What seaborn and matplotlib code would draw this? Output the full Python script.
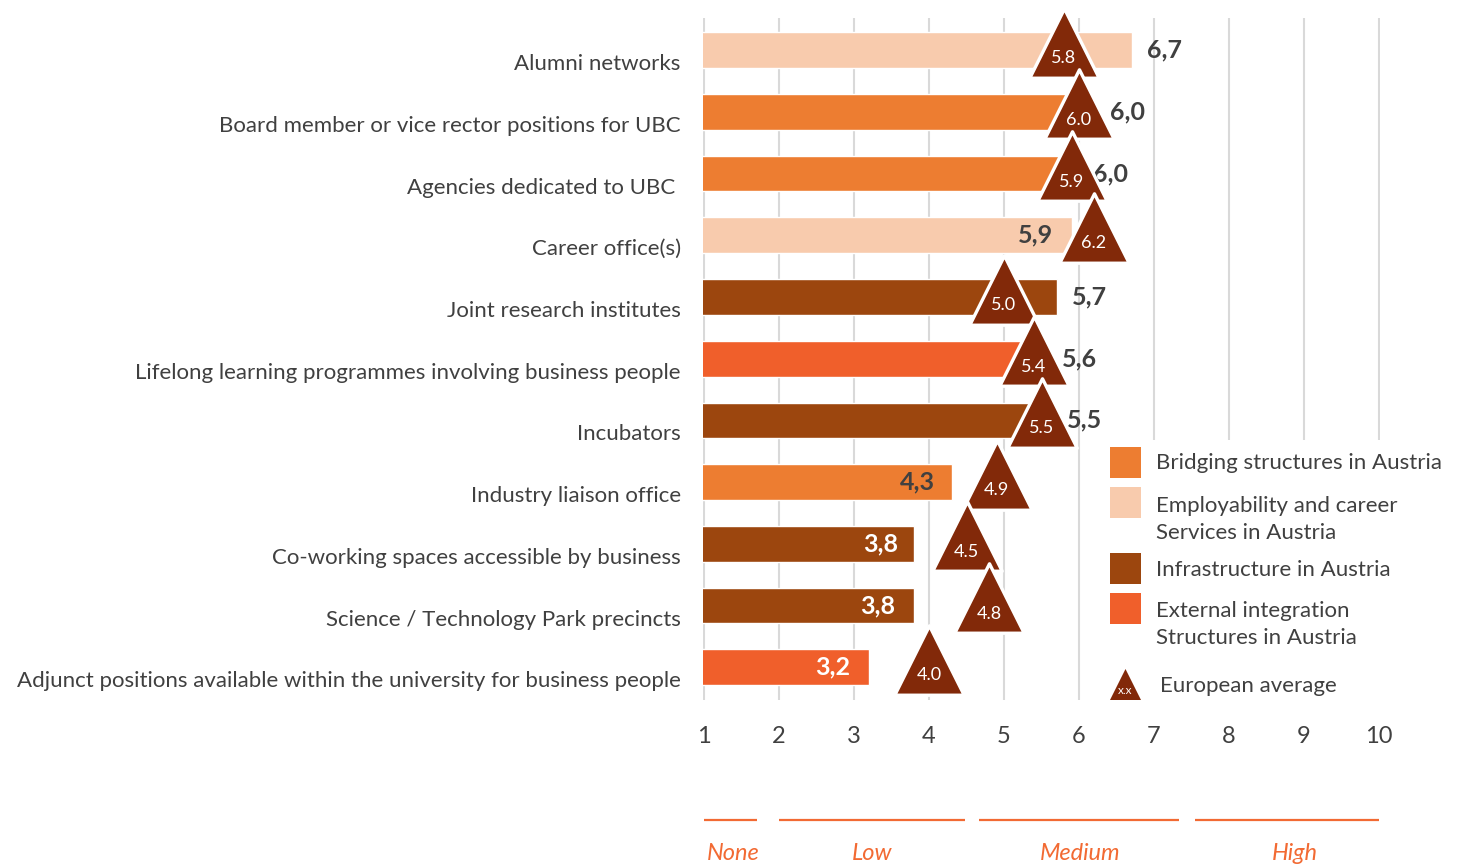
import numpy as np
import pandas as pd
import matplotlib
matplotlib.use("Agg")
import matplotlib.pyplot as plt
import seaborn as sns
from matplotlib.patches import Rectangle, Polygon
from matplotlib.transforms import ScaledTranslation, blended_transform_factory

# ---- data -------------------------------------------------------------
items = [
    "Alumni networks",
    "Board member or vice rector positions for UBC",
    "Agencies dedicated to UBC ",
    "Career office(s)",
    "Joint research institutes",
    "Lifelong learning programmes involving business people",
    "Incubators",
    "Industry liaison office",
    "Co-working spaces accessible by business",
    "Science / Technology Park precincts",
    "Adjunct positions available within the university for business people",
]
austria = [6.7, 6.0, 6.0, 5.9, 5.7, 5.6, 5.5, 4.3, 3.8, 3.8, 3.2]
europe = [5.8, 6.0, 5.9, 6.2, 5.0, 5.4, 5.5, 4.9, 4.5, 4.8, 4.0]

BRIDGING = "Bridging structures in Austria"
EMPLOY = "Employability and career\nServices in Austria"
INFRA = "Infrastructure in Austria"
EXTERNAL = "External integration\nStructures in Austria"
groups = [EMPLOY, BRIDGING, BRIDGING, EMPLOY, INFRA, EXTERNAL,
          INFRA, BRIDGING, INFRA, INFRA, EXTERNAL]
group_order = [BRIDGING, EMPLOY, INFRA, EXTERNAL]
avg_label = "European average"

x_ticks = list(range(1, 11))
band_names = ["None", "Low", "Medium", "High"]
band_spans = [(1.0, 1.71), (2.0, 4.48), (4.67, 7.33), (7.55, 10.0)]

# ---- styles -----------------------------------------------------------
palette = {
    BRIDGING: "#ED7D31",
    EMPLOY: "#F8CBAD",
    INFRA: "#9C460E",
    EXTERNAL: "#F05F2B",
}
tri_color = "#822909"
text_color = "#404040"
band_color = "#F26A33"
band_label_x = [1.39, 3.24, 6.01, 8.88]
# horizontal placement of the value labels (pixels from the bar end;
# negative = inside the bar, right aligned)
value_offsets_px = [15, 31, 14, -18, 15, 13, 25, -17, -16, -19, -19]
value_colors = [text_color] * 8 + ["white"] * 3

W, H = 1463, 864
sns.set_theme(style="white")
plt.rcParams["font.family"] = ["Lato", "DejaVu Sans"]

fig = plt.figure(figsize=(W / 100, H / 100), dpi=100)


def fx(px):
    return px / W


def fy(py):
    return 1 - py / H


PX_PER_UNIT = 75.0
x_lo, x_hi = 0.985, 10.015
ax_left_px = 704 - (1 - x_lo) * PX_PER_UNIT
ax_w_px = (x_hi - x_lo) * PX_PER_UNIT
ax = fig.add_axes([fx(ax_left_px), fy(700), ax_w_px / W, (700 - 18) / H])

df = pd.DataFrame({"item": items, "score": austria, "group": groups})
sns.barplot(
    data=df, x="score", y="item", hue="group", hue_order=group_order,
    order=items, palette=palette, saturation=1, dodge=False, width=0.58,
    orient="h", errorbar=None, legend=False, ax=ax, zorder=2,
)

n = len(items)
# European averages as triangles, drawn top to bottom so lower ones overlap
sns.scatterplot(
    x=europe, y=np.arange(n) - 0.12, marker="^", s=50 ** 2, color=tri_color,
    edgecolor="white", linewidth=2.4, ax=ax, zorder=4, clip_on=False,
    legend=False,
)
for i, v in enumerate(europe):
    ax.text(v, i + 0.13, f"{v:.1f}", ha="center", va="center",
            color="white", fontsize=13, zorder=5)

for i, (v, off, c) in enumerate(zip(austria, value_offsets_px, value_colors)):
    ax.annotate(
        f"{v:.1f}".replace(".", ","), xy=(v, i), xytext=(off * 0.72, 0),
        textcoords="offset points", ha="left" if off > 0 else "right",
        va="center", fontsize=18, fontweight="bold", color=c, zorder=3,
    )

# axes styling
ax.set_xlim(x_lo, x_hi)
ax.set_ylim(n - 0.47, -0.52)
ax.set_xticks(x_ticks)
ax.set_xticklabels([str(t) for t in x_ticks])
ax.set_yticks(range(n))
ax.set_yticklabels(items)
ax.set_xlabel("")
ax.set_ylabel("")
ax.xaxis.grid(True, color="#D9D9D9", linewidth=1.5)
ax.yaxis.grid(False)
ax.set_axisbelow(True)
sns.despine(ax=ax, left=True, bottom=True)
ax.tick_params(axis="x", length=0, pad=19, labelsize=17, labelcolor=text_color)
ax.tick_params(axis="y", length=0, pad=16, labelsize=16, labelcolor=text_color)
shift = ScaledTranslation(0, -0.12, fig.dpi_scale_trans)
for lab in ax.get_yticklabels():
    lab.set_transform(lab.get_transform() + shift)

# legend panel
fig.add_artist(Rectangle((fx(1103), fy(706)), fx(1463) - fx(1103),
                         (706 - 440) / H, transform=fig.transFigure,
                         facecolor="white", edgecolor="none", zorder=1))
legend_tops = [447, 487, 553, 593]
legend_baselines = [469, 539, 576, 644]  # baseline of each entry's last line
for g, top, base in zip(group_order, legend_tops, legend_baselines):
    fig.add_artist(Rectangle((fx(1110), fy(top + 31)), 31 / W, 31 / H,
                             transform=fig.transFigure, facecolor=palette[g],
                             edgecolor="none", zorder=2))
    fig.text(fx(1156), fy(base), g, ha="left", va="baseline",
             fontsize=16, color=text_color, linespacing=1.45, zorder=3)
fig.add_artist(Polygon([(fx(1110), fy(700)), (fx(1141), fy(700)),
                        (fx(1125.5), fy(669))], closed=True,
                       transform=fig.transFigure, facecolor=tri_color,
                       edgecolor="none", zorder=2))
fig.text(fx(1125.5), fy(690), "x.x", ha="center", va="center",
         fontsize=8.5, color="white", zorder=3)
fig.text(fx(1160), fy(692), avg_label, ha="left", va="baseline",
         fontsize=16, color=text_color, zorder=3)

# qualitative scale under the axis
band_trans = blended_transform_factory(ax.transData, fig.transFigure)
for name, (a, b), lx in zip(band_names, band_spans, band_label_x):
    ax.plot([a, b], [fy(820), fy(820)], transform=band_trans, clip_on=False,
            color=band_color, linewidth=1.6, solid_capstyle="butt")
    ax.text(lx, fy(860), name, transform=band_trans, ha="center",
            va="baseline", style="italic", fontsize=17, color=band_color,
            clip_on=False)
ax.set_xlim(x_lo, x_hi)

fig.savefig("out.png", dpi=100)
